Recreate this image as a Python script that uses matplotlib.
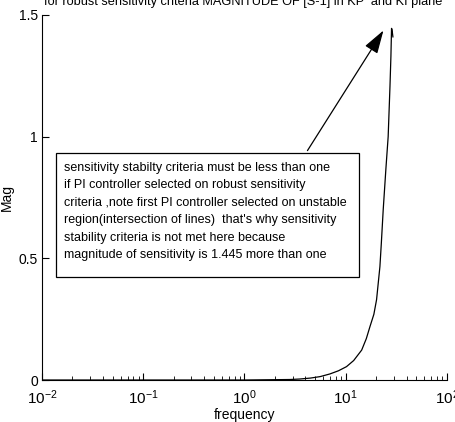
import numpy as np
import matplotlib
matplotlib.use('Agg')
import matplotlib.pyplot as plt
from matplotlib.patches import Rectangle

plt.rcParams['font.family'] = ['Liberation Sans', 'DejaVu Sans']
plt.rcParams['mathtext.fontset'] = 'custom'
plt.rcParams['mathtext.rm'] = 'Liberation Sans'
plt.rcParams['mathtext.it'] = 'Liberation Sans'

# magnitude of sensitivity vs frequency
freq = [0.01, 0.1, 1.0, 2.8, 3.5, 4.5, 5.6, 7.0, 8.5, 10.2, 12.0, 14.4, 16.0,
        17.4, 19.0, 20.2, 21.8, 22.5, 23.5, 25.0, 26.3, 27.4, 28.0, 28.4, 28.7, 29.3]
mag = [0.0, 0.0, 0.0, 0.002, 0.004, 0.008, 0.014, 0.025, 0.038, 0.055, 0.08, 0.123, 0.17,
       0.22, 0.27, 0.33, 0.466, 0.56, 0.70, 0.87, 1.0, 1.205, 1.33, 1.445, 1.44, 1.41]

title = 'for robust sensitivity criteria MAGNITUDE OF [S-1] in KP  and KI plane'
note = ('sensitivity stabilty criteria must be less than one\n'
        'if PI controller selected on robust sensitivity\n'
        'criteria ,note first PI controller selected on unstable\n'
        "region(intersection of lines)  that's why sensitivity\n"
        'stability criteria is not met here because\n'
        'magnitude of sensitivity is 1.445 more than one')

fig = plt.figure(figsize=(4.56, 4.22), dpi=100)
ax = fig.add_axes([0.092, 0.0995, 0.888, 0.865])

ax.semilogx(freq, mag, color='black', lw=0.9)
ax.set_xlim(0.01, 100)
ax.set_ylim(0, 1.5)
ax.set_yticks([0, 0.5, 1, 1.5])
ax.set_yticklabels(['0', '0.5', '1', '1.5'])
ax.spines['top'].set_visible(False)
ax.spines['right'].set_visible(False)
ax.tick_params(which='both', direction='in')
ax.tick_params(axis='y', labelsize=10, pad=3)
ax.tick_params(axis='x', labelsize=11, pad=6)
ax.tick_params(which='major', length=5)
ax.tick_params(which='minor', length=3)

ax.set_xlabel('frequency', fontsize=10, labelpad=1)
ax.set_ylabel('Mag', fontsize=10)
ax.yaxis.set_label_coords(-0.07, 0.5)
fig.text(0.533, 0.988, title, fontsize=9.2, ha='center', va='baseline')

ax.add_patch(Rectangle((0.0346, 0.282), 0.7484, 0.340, transform=ax.transAxes,
                       fill=False, edgecolor='black', lw=0.9))
ax.text(0.054, 0.597, note, transform=ax.transAxes, fontsize=9,
        va='top', ha='left', linespacing=1.6)
ax.annotate('', xy=(0.847, 0.964), xytext=(0.652, 0.622),
            xycoords='axes fraction', textcoords='axes fraction',
            arrowprops=dict(arrowstyle='-|>,head_length=0.8,head_width=0.25',
                            color='black', lw=0.9, mutation_scale=18))

fig.savefig('out.png', dpi=100)
